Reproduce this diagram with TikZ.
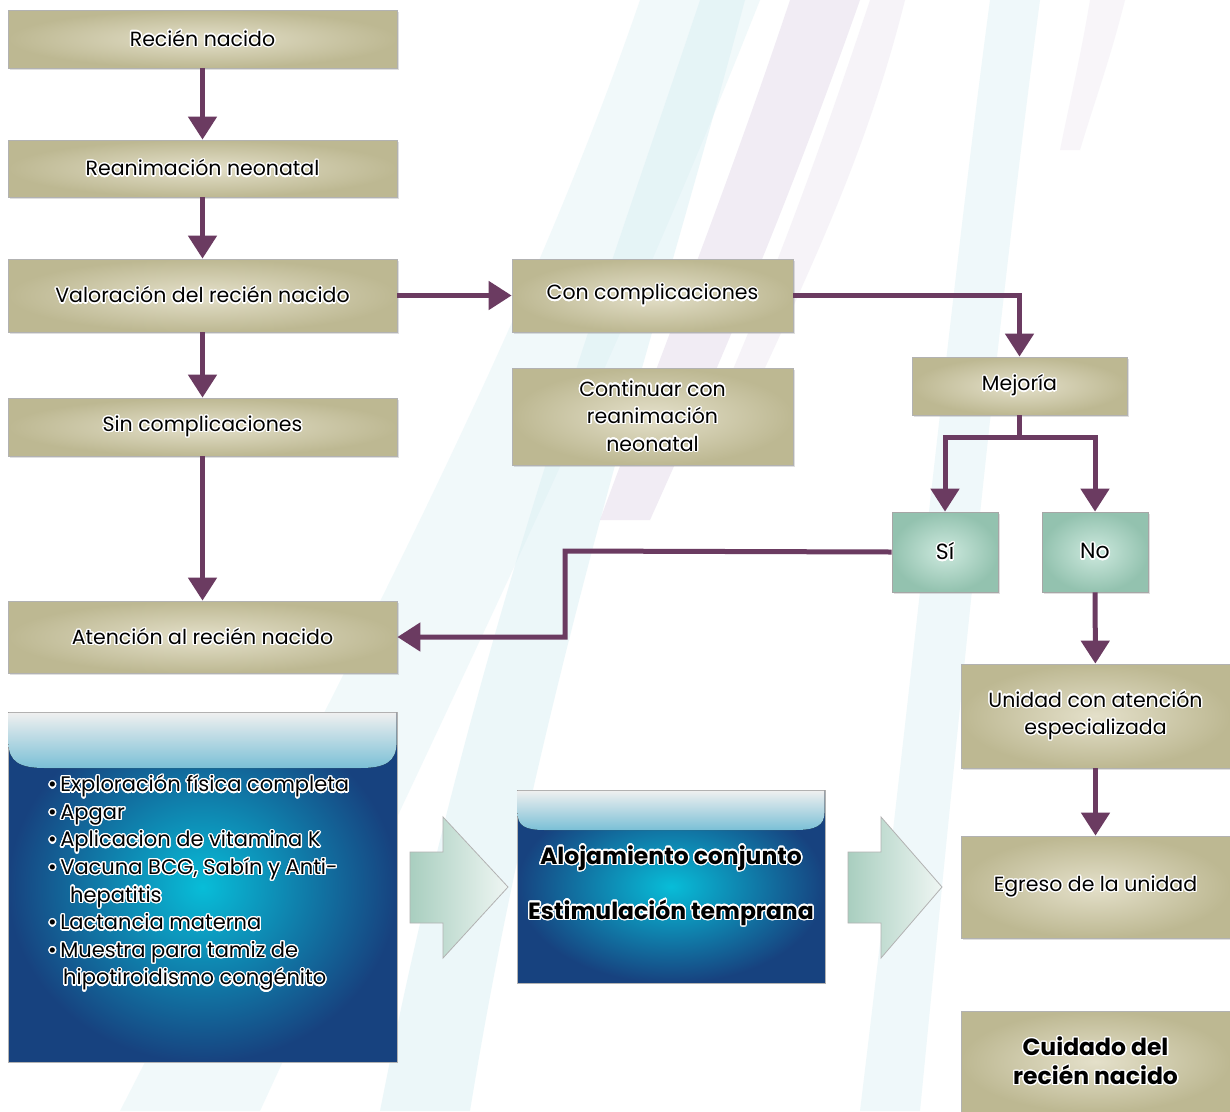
\documentclass[tikz,border=0pt]{standalone}
\usepackage{fontspec}
\setmainfont{Poppins}
\usepackage{contour}
\contourlength{1.3pt}
\contournumber{24}
\usetikzlibrary{shadows,arrows.meta}

\definecolor{plum}{HTML}{6B3B61}
\definecolor{khakiIn}{HTML}{E4E0CA}
\definecolor{khakiOut}{HTML}{BDB892}
\definecolor{mintIn}{HTML}{CDE9DE}
\definecolor{mintOut}{HTML}{93C2AF}
\definecolor{blueIn}{HTML}{08BDD8}
\definecolor{blueOut}{HTML}{17427F}
\definecolor{washC}{HTML}{D7EEF3}
\definecolor{washP}{HTML}{DCD0E4}
\newcommand{\halo}[1]{\contour{white}{#1}}

\tikzset{
  kbox/.style={draw=gray!60, line width=0.8pt, inner color=khakiIn, outer color=khakiOut,
    inner sep=0pt, align=center, font=\fontsize{20.5}{27.5}\selectfont,
    drop shadow={opacity=0.25, shadow xshift=1.5pt, shadow yshift=-1.5pt}},
  mbox/.style={draw=gray!70, line width=0.8pt, inner color=mintIn, outer color=mintOut,
    inner sep=0pt, align=center, font=\fontsize{22}{27}\selectfont,
    drop shadow={opacity=0.25, shadow xshift=1.5pt, shadow yshift=-1.5pt}},
  bbox/.style={draw=gray!60, line width=0.8pt, inner color=blueIn, outer color=blueOut, inner sep=0pt},
  gloss/.style={top color=white!88!gray, bottom color=blueOut!40!blueIn!55!white, draw=none},
  conn/.style={plum, line width=5pt, -{Triangle[length=23pt,width=28pt]}},
  line/.style={plum, line width=5pt},
  bigarrow/.style={draw=gray!60, line width=0.8pt, left color=mintOut!80!white, right color=white!85!mintOut, shading angle=90},
}

\begin{document}
\begin{tikzpicture}[x=1pt,y=-1pt]
\useasboundingbox (0,0) rectangle (1230,1111);
\fill[white] (0,0) rectangle (1230,1111);

% background swooshes
\fill[washC, opacity=0.35] (640,0) .. controls (520,350) and (330,700) .. (120,1111) -- (260,1111) .. controls (440,720) and (610,380) .. (760,0) -- cycle;
\fill[washC, opacity=0.45] (700,0) .. controls (600,300) and (470,650) .. (380,1111) -- (470,1111) .. controls (540,680) and (660,320) .. (745,0) -- cycle;
\fill[washP, opacity=0.4] (790,0) .. controls (730,180) and (670,330) .. (600,520) -- (650,520) .. controls (740,320) and (800,170) .. (860,0) -- cycle;
\fill[washP, opacity=0.25] (870,0) .. controls (820,150) and (780,260) .. (720,400) -- (750,400) .. controls (820,250) and (870,140) .. (905,0) -- cycle;
\fill[washC, opacity=0.4] (990,0) .. controls (950,300) and (910,700) .. (860,1111) -- (920,1111) .. controls (960,700) and (1000,300) .. (1040,0) -- cycle;
\fill[washP, opacity=0.2] (1090,0) .. controls (1080,60) and (1070,100) .. (1060,150) -- (1080,150) .. controls (1095,100) and (1110,60) .. (1125,0) -- cycle;

% khaki boxes
\node[kbox, minimum width=389pt, minimum height=58pt] (rn) at (202.5,39) {\halo{Recién nacido}};
\node[kbox, minimum width=389pt, minimum height=57pt] (rean) at (202.5,168.5) {\halo{Reanimación neonatal}};
\node[kbox, minimum width=389pt, minimum height=73pt] (val) at (202.5,295.5) {\halo{Valoración del recién nacido}};
\node[kbox, minimum width=389pt, minimum height=58pt] (sin) at (202.5,427) {\halo{Sin complicaciones}};
\node[kbox, minimum width=389pt, minimum height=72pt] (aten) at (202.5,637) {\halo{Atención al recién nacido}};
\node[kbox, minimum width=281pt, minimum height=73pt] (con) at (652.5,295.5) {\halo{Con complicaciones}};
\node[kbox, minimum width=281pt, minimum height=97pt] (cont) at (652.5,416.5) {\halo{Continuar con}\\\halo{reanimación}\\\halo{neonatal}};
\node[kbox, minimum width=215pt, minimum height=58pt] (mej) at (1019.5,386) {\halo{Mejoría}};
\node[kbox, minimum width=269pt, minimum height=104pt] (uni) at (1095.5,716) {\halo{Unidad con atención}\\\halo{especializada}};
\node[kbox, minimum width=269pt, minimum height=102pt] (egr) at (1095.5,887) {\halo{Egreso de la unidad}};
\node[kbox, minimum width=269pt, minimum height=101pt, font=\fontsize{23.5}{29}\selectfont\bfseries] (cui) at (1095.5,1061.5) {\halo{Cuidado del}\\\halo{recién nacido}};

% mint boxes
\node[mbox, minimum width=106pt, minimum height=80pt] (si) at (945,552) {\halo{Sí}};
\node[mbox, minimum width=106pt, minimum height=80pt] (no) at (1095,552) {\halo{No}};

% blue boxes
\node[bbox, minimum width=389pt, minimum height=350pt] (exp) at (202.5,887) {};
\fill[gloss] (8.4,712.4) -- (396.6,712.4) -- (396.6,742) .. controls (396.6,762) and (385,768) .. (360,768) -- (45,768) .. controls (20,768) and (8.4,762) .. (8.4,742) -- cycle;
\node[anchor=north west, align=left, inner sep=0pt, font=\fontsize{21}{27.6}\selectfont] (lst) at (48,775) {%
\halo{•\,Exploración física completa}\\
\halo{•\,Apgar}\\
\halo{•\,Aplicacion de vitamina K}\\
\halo{•\,Vacuna BCG, Sabín y Anti-}\\
\hspace*{22pt}\halo{hepatitis}\\
\halo{•\,Lactancia materna}\\
\halo{•\,Muestra para tamiz de}\\
\hspace*{15pt}\halo{hipotiroidismo congénito}};

\node[bbox, minimum width=308pt, minimum height=193pt] (alo) at (671,886.5) {};
\fill[gloss] (517.4,790.4) -- (824.6,790.4) -- (824.6,812) .. controls (824.6,826) and (815,830) .. (795,830) -- (545,830) .. controls (525,830) and (517.4,826) .. (517.4,812) -- cycle;
\node[align=center, inner sep=0pt, font=\fontsize{23.5}{55}\selectfont\bfseries] (alot) at (671,886) {\halo{Alojamiento conjunto}\\\halo{Estimulación temprana}};

% big block arrows
\draw[bigarrow] (410,852) -- (443,852) -- (443,817) -- (508,887) -- (443,958) -- (443,923) -- (410,923) -- cycle;
\draw[bigarrow] (848,852) -- (881,852) -- (881,817) -- (942,887) -- (881,958) -- (881,923) -- (848,923) -- cycle;

% connectors
\draw[conn] (rn) -- (rean);
\draw[conn] (rean) -- (val);
\draw[conn] (val) -- (sin);
\draw[conn] (sin) -- (aten);
\draw[conn] (val) -- (con);
\draw[conn] (con.east) -| (mej.north);
\coordinate (split) at (1019.5,437);
\draw[line] (mej.south) -- (split);
\draw[conn] (split) -| (si.north);
\draw[conn] (split) -| (no.north);
\coordinate (bend) at (565,551);
\draw[conn] (si.west) -- (bend) |- (aten.east);
\draw[conn] (no) -- (uni);
\draw[conn] (uni) -- (egr);
\end{tikzpicture}
\end{document}
